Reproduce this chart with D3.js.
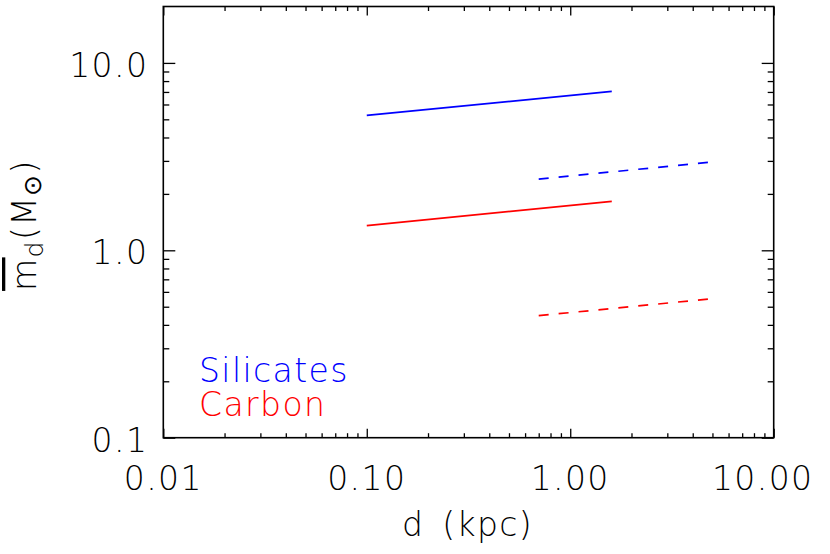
<!DOCTYPE html>
<html>
<head>
<meta charset="utf-8">
<script src="https://cdn.jsdelivr.net/npm/d3@7"></script>
<style>
  html, body { margin: 0; padding: 0; background: #fff; }
  svg text { font-family: "DejaVu Sans ExtraLight", "DejaVu Sans", sans-serif; font-weight: 200; letter-spacing: 1.4px; }
</style>
</head>
<body>
<svg id="chart" width="830" height="554"></svg>
<script>
// ---- data ----
const xDomain = [0.01, 10];
const yDomain = [0.1, 20];
const xTicks = [0.01, 0.1, 1, 10];
const xTickLabels = ["0.01", "0.10", "1.00", "10.00"];
const yTicks = [0.1, 1, 10];
const yTickLabels = ["0.1", "1.0", "10.0"];
const xMinor = [0.02,0.03,0.04,0.05,0.06,0.07,0.08,0.09,0.2,0.3,0.4,0.5,0.6,0.7,0.8,0.9,2,3,4,5,6,7,8,9];
const yMinor = [0.2,0.3,0.4,0.5,0.6,0.7,0.8,0.9,2,3,4,5,6,7,8,9];

const silicatesSolidD = [0.1, 1.6];
const silicatesSolidM = [5.25, 7.05];
const silicatesDashD = [0.7, 5.0];
const silicatesDashM = [2.40, 2.96];
const carbonSolidD = [0.1, 1.6];
const carbonSolidM = [1.354, 1.825];
const carbonDashD = [0.7, 5.0];
const carbonDashM = [0.448, 0.552];

const legendLabels = ["Silicates", "Carbon"];
const legendColors = ["#0000ff", "#ff0000"];

// ---- layout ----
const W = 830, H = 554;
const margin = {left: 163.3, right: 56.3, top: 6.5, bottom: 116.3};
const svg = d3.select("#chart");
const x = d3.scaleLog().domain(xDomain).range([margin.left, W - margin.right]);
const y = d3.scaleLog().domain(yDomain).range([H - margin.bottom, margin.top]);
const fs = 33;

// series
const series = [
  {d: silicatesSolidD, m: silicatesSolidM, color: legendColors[0], dash: null},
  {d: silicatesDashD, m: silicatesDashM, color: legendColors[0], dash: "10,10"},
  {d: carbonSolidD, m: carbonSolidM, color: legendColors[1], dash: null},
  {d: carbonDashD, m: carbonDashM, color: legendColors[1], dash: "10,10"}
];
const line = d3.line().x(p => x(p[0])).y(p => y(p[1]));
svg.append("g").selectAll("path").data(series).join("path")
  .attr("d", s => line(s.d.map((v, i) => [v, s.m[i]])))
  .attr("fill", "none")
  .attr("stroke", s => s.color)
  .attr("stroke-width", 1.7)
  .attr("stroke-dasharray", s => s.dash);

// axes (ticks pointing inward on all four sides)
function styleAxis(g) {
  g.select(".domain").remove();
  g.selectAll("line").attr("stroke", "#000").attr("stroke-width", 1.3);
}
const x0 = margin.left, x1 = W - margin.right, y0 = H - margin.bottom, y1 = margin.top;
svg.append("g").attr("transform", `translate(0,${y0})`)
  .call(d3.axisBottom(x).tickValues(xTicks).tickSize(-9).tickFormat("")).call(styleAxis);
svg.append("g").attr("transform", `translate(0,${y0})`)
  .call(d3.axisBottom(x).tickValues(xMinor).tickSize(-4.5).tickFormat("")).call(styleAxis);
svg.append("g").attr("transform", `translate(0,${y1})`)
  .call(d3.axisTop(x).tickValues(xTicks).tickSize(-9).tickFormat("")).call(styleAxis);
svg.append("g").attr("transform", `translate(0,${y1})`)
  .call(d3.axisTop(x).tickValues(xMinor).tickSize(-4.5).tickFormat("")).call(styleAxis);
svg.append("g").attr("transform", `translate(${x0},0)`)
  .call(d3.axisLeft(y).tickValues(yTicks).tickSize(-12).tickFormat("")).call(styleAxis);
svg.append("g").attr("transform", `translate(${x0},0)`)
  .call(d3.axisLeft(y).tickValues(yMinor).tickSize(-6).tickFormat("")).call(styleAxis);
svg.append("g").attr("transform", `translate(${x1},0)`)
  .call(d3.axisRight(y).tickValues(yTicks).tickSize(-12).tickFormat("")).call(styleAxis);
svg.append("g").attr("transform", `translate(${x1},0)`)
  .call(d3.axisRight(y).tickValues(yMinor).tickSize(-6).tickFormat("")).call(styleAxis);

// frame
svg.append("rect").attr("x", x0).attr("y", y1).attr("width", x1 - x0).attr("height", y0 - y1)
  .attr("fill", "none").attr("stroke", "#000").attr("stroke-width", 1.6);

// tick labels
svg.append("g").selectAll("text").data(xTicks).join("text")
  .attr("x", d => x(d))
  .attr("dx", (d, i) => i === xTicks.length - 1 ? -11 : 0)
  .attr("y", y0 + 52)
  .attr("text-anchor", "middle")
  .attr("font-size", fs)
  .text((d, i) => xTickLabels[i]);
svg.append("g").selectAll("text").data(yTicks).join("text")
  .attr("x", x0 - 15)
  .attr("y", d => y(d) + 14)
  .attr("text-anchor", "end")
  .attr("font-size", fs)
  .text((d, i) => yTickLabels[i]);

// axis titles
svg.append("text").attr("x", (x0 + x1) / 2 - 1).attr("y", 536)
  .attr("text-anchor", "middle").attr("font-size", fs).attr("word-spacing", 6).text("d (kpc)");
const yt = svg.append("text")
  .attr("transform", `translate(36,${(y0 + y1) / 2 + 3}) rotate(-90)`)
  .attr("text-anchor", "middle").attr("font-size", fs);
yt.append("tspan").attr("text-decoration", "overline").text("m");
yt.append("tspan").attr("font-size", 25).attr("dy", 7).text("d");
yt.append("tspan").attr("dy", -7).text("(M");
yt.append("tspan").attr("font-size", 25).attr("dy", 5).text("⊙");
yt.append("tspan").attr("dy", -5).text(")");

// legend
svg.append("g").selectAll("text").data(legendLabels).join("text")
  .attr("x", 199)
  .attr("y", (d, i) => 381.5 + i * 34.5)
  .attr("font-size", fs)
  .attr("fill", (d, i) => legendColors[i])
  .text(d => d);
</script>
</body>
</html>
